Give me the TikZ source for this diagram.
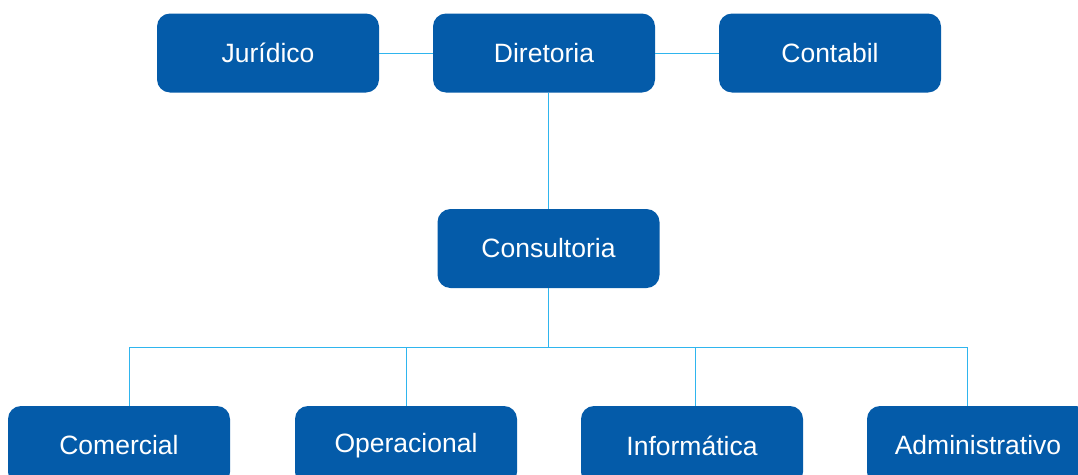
\documentclass[tikz,border=0pt]{standalone}
\usepackage{fontspec}
\setmainfont{Liberation Sans}
\definecolor{boxblue}{HTML}{045BA9}
\definecolor{linecyan}{HTML}{2FB5EE}
\begin{document}
\begin{tikzpicture}[x=1pt,y=-1pt,
  orgbox/.style={fill=boxblue, rounded corners=13pt, text=white,
    font=\fontsize{26.5}{31}\selectfont, minimum width=222pt, minimum height=79pt,
    inner sep=0pt, anchor=center},
  link/.style={draw=linecyan, line width=1pt}]
\useasboundingbox (0,0) rectangle (1078,474);
\node[orgbox] (jur)  at (268,53)    {Jurídico};
\node[orgbox] (dir)  at (544,53)    {Diretoria};
\node[orgbox] (cont) at (830,53)    {Contabil};
\node[orgbox] (cons) at (548.5,248.5) {Consultoria};
\node[orgbox] (com)  at (119,445.5) {Comercial};
\node[orgbox] (op)   at (406,445.5) {Operacional};
\node[orgbox] (inf)  at (692,445.5) {Informática};
\node[orgbox] (adm)  at (978,445.5) {Administrativo};
\coordinate (bl) at (129,347);
\coordinate (bi) at (695,347);
\coordinate (br) at (967,347);
\draw[link] (jur.east) -- (dir.west);
\draw[link] (dir.east) -- (cont.west);
\draw[link] (cons.north |- dir.south) -- (cons.north);
\draw[link] (cons.south) -- (cons.south |- bl);
\draw[link] (bl) -- (br);
\draw[link] (bl) -- (bl |- com.north);
\draw[link] (op.north |- bl) -- (op.north);
\draw[link] (bi) -- (bi |- inf.north);
\draw[link] (br) -- (br |- adm.north);
\end{tikzpicture}
\end{document}
